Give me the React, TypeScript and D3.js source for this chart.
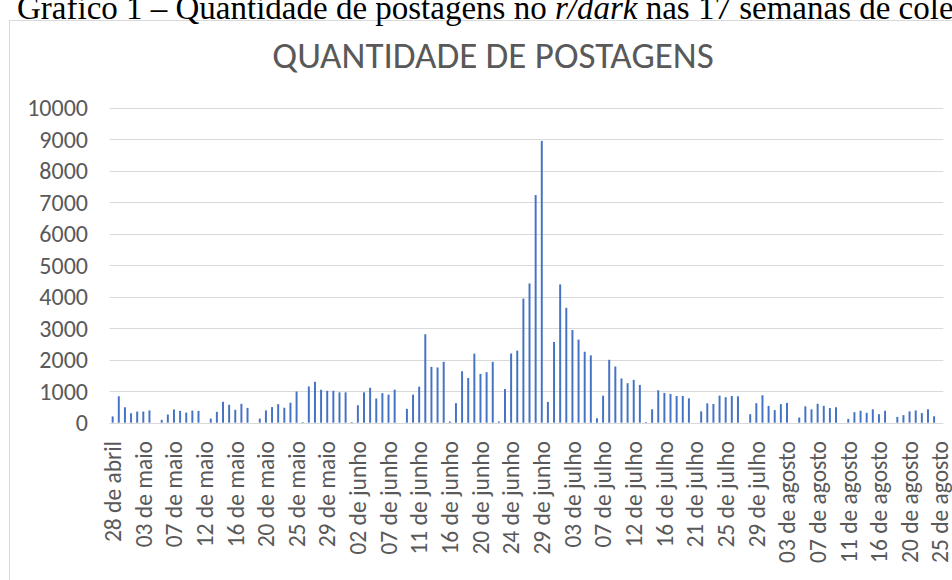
import React from "react";
import * as d3 from "d3";

// daily posts, 17 blocks of 8 days (last day of each block repeats as first of the next)
const postagens = [
  200, 840, 490, 300, 355, 355, 390, 0,
  90, 260, 420, 375, 320, 385, 375, 0,
  130, 345, 665, 570, 410, 600, 470, 0,
  130, 390, 495, 590, 475, 635, 990, 20,
  1150, 1300, 1045, 1015, 1015, 965, 965, 20,
  555, 965, 1110, 770, 940, 890, 1050, 0,
  440, 890, 1145, 2810, 1775, 1755, 1935, 40,
  620, 1635, 1420, 2195, 1550, 1605, 1935, 40,
  1070, 2200, 2290, 3945, 4425, 7235, 8955, 660,
  2565, 4395, 3650, 2945, 2640, 2255, 2140, 140,
  860, 2000, 1785, 1405, 1255, 1360, 1200, 20,
  425, 1030, 945, 915, 850, 850, 775, 0,
  360, 615, 595, 860, 810, 850, 840, 0,
  270, 620, 870, 535, 400, 590, 630, 0,
  165, 520, 425, 600, 535, 465, 490, 0,
  120, 335, 380, 315, 425, 270, 380, 0,
  185, 240, 360, 390, 305, 425, 205, 0,
];

// shown every 5th category
const tickLabels = [
  "28 de abril", "03 de maio", "07 de maio", "12 de maio", "16 de maio",
  "20 de maio", "25 de maio", "29 de maio", "02 de junho", "07 de junho",
  "11 de junho", "16 de junho", "20 de junho", "24 de junho", "29 de junho",
  "03 de julho", "07 de julho", "12 de julho", "16 de julho", "21 de julho",
  "25 de julho", "29 de julho", "03 de agosto", "07 de agosto", "11 de agosto",
  "16 de agosto", "20 de agosto", "25 de agosto",
];

const yTicks = [0, 1000, 2000, 3000, 4000, 5000, 6000, 7000, 8000, 9000, 10000];

const W = 952;
const H = 580;
const font = "Carlito, Lato, 'Open Sans', sans-serif";
const grey = "#595959";

export default function App() {
  const plot = { left: 109.6, right: 943.3, top: 108, bottom: 422.7 };

  const x = d3
    .scaleBand<number>()
    .domain(d3.range(postagens.length))
    .range([plot.left, plot.right])
    .paddingInner(0.68)
    .paddingOuter(0.34);

  const y = d3.scaleLinear().domain([0, 10000]).range([plot.bottom, plot.top]);

  const center = (i: number) => (x(i) as number) + x.bandwidth() / 2;

  return (
    <div style={{ position: "fixed", left: 0, top: 0 }}>
      <svg width={W} height={H} style={{ display: "block", background: "#fff" }}>
        {/* chart frame */}
        <rect x={9.5} y={20.5} width={W + 10} height={H + 10} fill="#fff" stroke="#D9D9D9" strokeWidth={1} />

        {/* caption above the chart, cut by the top edge as in the source */}
        <text x={17} y={19} fontFamily="'Liberation Serif', 'Times New Roman', serif" fontSize={33} fill="#000">
          Gráfico 1 – Quantidade de postagens no <tspan fontStyle="italic">r/dark</tspan> nas 17 semanas de coleta
        </text>

        <text x={493} y={68} textAnchor="middle" fontFamily={font} fontSize={37} fill={grey}>
          QUANTIDADE DE POSTAGENS
        </text>

        {/* gridlines */}
        {yTicks.map((t) => (
          <line key={t} x1={plot.left} x2={plot.right} y1={Math.round(y(t)) + 0.5} y2={Math.round(y(t)) + 0.5} stroke="#D9D9D9" strokeWidth={1} />
        ))}
        {yTicks.map((t) => (
          <text key={"l" + t} x={88} y={y(t)} dy="0.35em" textAnchor="end" fontFamily={font} fontSize={24} fill={grey}>
            {t}
          </text>
        ))}

        {/* bars */}
        {postagens.map((v, i) => (
          <rect key={i} x={x(i)} y={y(v)} width={x.bandwidth()} height={plot.bottom - y(v)} fill="#4472C4" />
        ))}

        {/* x labels */}
        {tickLabels.map((lab, k) => {
          const cx = center(k * 5);
          return (
            <text
              key={lab}
              transform={`translate(${cx},441) rotate(-90)`}
              dy="0.35em"
              textAnchor="end"
              fontFamily={font}
              fontSize={23.5}
              fill={grey}
            >
              {lab}
            </text>
          );
        })}
      </svg>
    </div>
  );
}
